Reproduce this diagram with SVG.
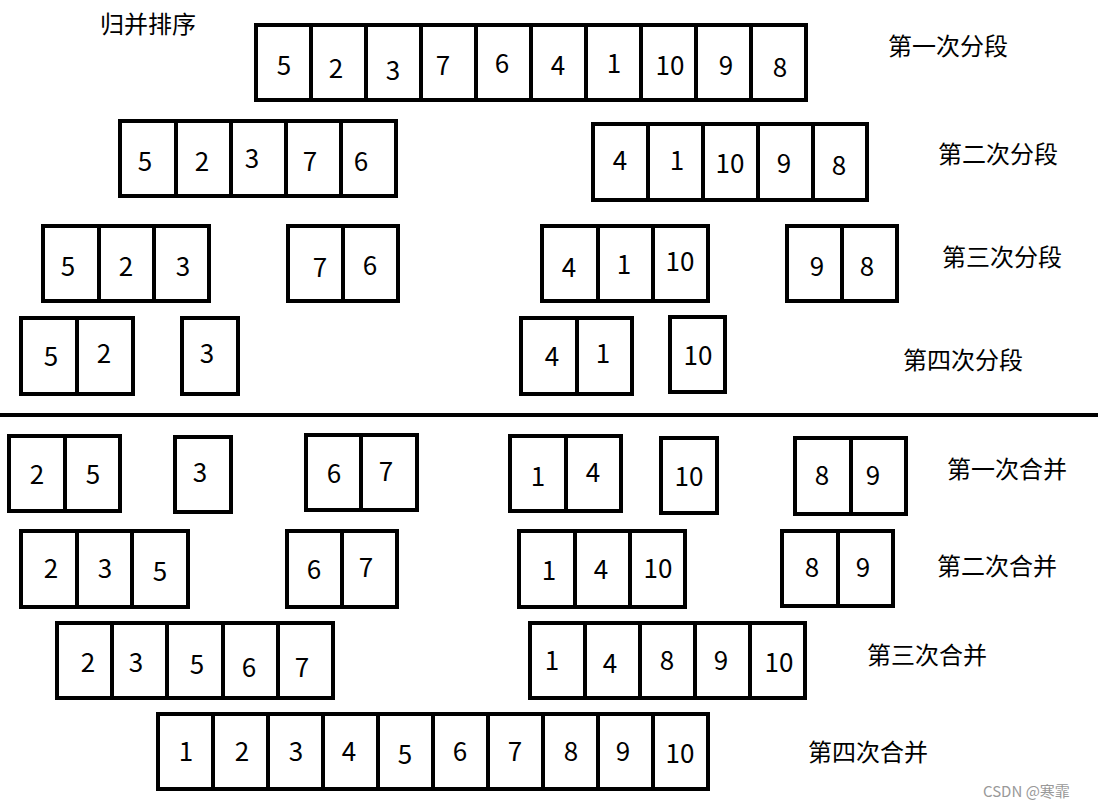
<svg xmlns="http://www.w3.org/2000/svg" width="1109" height="809" viewBox="0 0 1109 809">
<style>
rect{fill:#fff;stroke:#000;stroke-width:4}
.d{stroke:#000;stroke-width:4}
text{font-family:"Noto Sans CJK SC","Noto Sans",sans-serif;fill:#000}
.n{font-size:26px;text-anchor:middle}
.l{font-size:24px}
</style>
<rect width="1109" height="809" style="stroke:none"/>
<g id="r1"><rect x="256" y="25" width="550" height="75"/>
<path class="d" d="M311 25V100M366 25V100M421 25V100M476 25V100M531 25V100M586 25V100M641 25V100M696 25V100M751 25V100"/>
<text class="n" y="75"><tspan x="284">5</tspan><tspan x="336" dy="3">2</tspan><tspan x="393" dy="2">3</tspan><tspan x="443" dy="-5">7</tspan><tspan x="502" dy="-2">6</tspan><tspan x="558" dy="2">4</tspan><tspan x="614" dy="-2">1</tspan><tspan x="670" dy="2">10</tspan><tspan x="726">9</tspan><tspan x="780" dy="2">8</tspan></text></g>
<g id="r2a"><rect x="120" y="121" width="276" height="75"/>
<path class="d" d="M176 121V196M231 121V196M286 121V196M341 121V196"/>
<text class="n" y="171"><tspan x="145">5</tspan><tspan x="202">2</tspan><tspan x="252" dy="-3">3</tspan><tspan x="310" dy="3">7</tspan><tspan x="361">6</tspan></text></g>
<g id="r2b"><rect x="593" y="124" width="274" height="76"/>
<path class="d" d="M648 124V200M703 124V200M758 124V200M813 124V200"/>
<text class="n" y="170"><tspan x="620">4</tspan><tspan x="677">1</tspan><tspan x="730" dy="3">10</tspan><tspan x="784">9</tspan><tspan x="839" dy="2">8</tspan></text></g>
<g id="r3a"><rect x="43" y="226" width="166" height="75"/>
<path class="d" d="M99 226V301M154 226V301"/>
<text class="n" y="276"><tspan x="68">5</tspan><tspan x="126">2</tspan><tspan x="183">3</tspan></text></g>
<g id="r3b"><rect x="288" y="226" width="110" height="75"/>
<path class="d" d="M343 226V301"/>
<text class="n" y="277"><tspan x="320">7</tspan><tspan x="370" dy="-2">6</tspan></text></g>
<g id="r3c"><rect x="542" y="226" width="166" height="75"/>
<path class="d" d="M598 226V301M653 226V301"/>
<text class="n" y="277"><tspan x="569">4</tspan><tspan x="624" dy="-3">1</tspan><tspan x="680" dy="-3">10</tspan></text></g>
<g id="r3d"><rect x="787" y="226" width="110" height="75"/>
<path class="d" d="M842 226V301"/>
<text class="n" y="276"><tspan x="817">9</tspan><tspan x="867">8</tspan></text></g>
<g id="r4a"><rect x="21" y="318" width="112" height="76"/>
<path class="d" d="M77 318V394"/>
<text class="n" y="366"><tspan x="51">5</tspan><tspan x="104" dy="-3">2</tspan></text></g>
<g id="r4b"><rect x="182" y="318" width="56" height="76"/>
<text class="n" x="207" y="363">3</text></g>
<g id="r4c"><rect x="521" y="318" width="111" height="76"/>
<path class="d" d="M577 318V394"/>
<text class="n" y="366"><tspan x="552">4</tspan><tspan x="603" dy="-3">1</tspan></text></g>
<g id="r4d"><rect x="670" y="317" width="55" height="75"/>
<text class="n" x="698" y="365">10</text></g>
<g id="sep"><path class="d" d="M0 415H1098"/></g>
<g id="m1a"><rect x="9" y="436" width="111" height="75"/>
<path class="d" d="M65 436V511"/>
<text class="n" y="484"><tspan x="37">2</tspan><tspan x="93">5</tspan></text></g>
<g id="m1b"><rect x="175" y="437" width="56" height="75"/>
<text class="n" x="200" y="482">3</text></g>
<g id="m1c"><rect x="306" y="435" width="111" height="75"/>
<path class="d" d="M361 435V510"/>
<text class="n" y="483"><tspan x="334">6</tspan><tspan x="386" dy="-2">7</tspan></text></g>
<g id="m1d"><rect x="510" y="436" width="111" height="75"/>
<path class="d" d="M566 436V511"/>
<text class="n" y="486"><tspan x="538">1</tspan><tspan x="593" dy="-4">4</tspan></text></g>
<g id="m1e"><rect x="661" y="438" width="56" height="75"/>
<text class="n" x="689" y="486">10</text></g>
<g id="m1f"><rect x="795" y="438" width="111" height="76"/>
<path class="d" d="M851 438V514"/>
<text class="n" y="485"><tspan x="822">8</tspan><tspan x="873">9</tspan></text></g>
<g id="m2a"><rect x="21" y="531" width="167" height="76"/>
<path class="d" d="M77 531V607M132 531V607"/>
<text class="n" y="578"><tspan x="51">2</tspan><tspan x="105">3</tspan><tspan x="160" dy="3">5</tspan></text></g>
<g id="m2b"><rect x="287" y="531" width="110" height="76"/>
<path class="d" d="M342 531V607"/>
<text class="n" y="579"><tspan x="314">6</tspan><tspan x="366" dy="-2">7</tspan></text></g>
<g id="m2c"><rect x="519" y="531" width="166" height="76"/>
<path class="d" d="M575 531V607M630 531V607"/>
<text class="n" y="580"><tspan x="549">1</tspan><tspan x="601" dy="-1">4</tspan><tspan x="658" dy="-1">10</tspan></text></g>
<g id="m2d"><rect x="782" y="531" width="111" height="75"/>
<path class="d" d="M838 531V606"/>
<text class="n" y="577"><tspan x="812">8</tspan><tspan x="863">9</tspan></text></g>
<g id="m3a"><rect x="57" y="623" width="276" height="75"/>
<path class="d" d="M112 623V698M167 623V698M223 623V698M278 623V698"/>
<text class="n" y="672"><tspan x="88">2</tspan><tspan x="136">3</tspan><tspan x="197" dy="2">5</tspan><tspan x="249" dy="3">6</tspan><tspan x="302">7</tspan></text></g>
<g id="m3b"><rect x="530" y="623" width="275" height="75"/>
<path class="d" d="M585 623V698M640 623V698M695 623V698M750 623V698"/>
<text class="n" y="670"><tspan x="552">1</tspan><tspan x="610" dy="3">4</tspan><tspan x="667" dy="-3">8</tspan><tspan x="721">9</tspan><tspan x="779" dy="2">10</tspan></text></g>
<g id="m4"><rect x="158" y="714" width="550" height="75"/>
<path class="d" d="M213 714V789M268 714V789M323 714V789M378 714V789M433 714V789M488 714V789M543 714V789M598 714V789M653 714V789"/>
<text class="n" y="761"><tspan x="186">1</tspan><tspan x="242">2</tspan><tspan x="296">3</tspan><tspan x="349">4</tspan><tspan x="405" dy="3">5</tspan><tspan x="460" dy="-3">6</tspan><tspan x="515">7</tspan><tspan x="571">8</tspan><tspan x="623">9</tspan><tspan x="680" dy="2">10</tspan></text></g>
<g id="labels" class="l">
<text class="l" x="100" y="33">归并排序</text>
<text class="l" x="888" y="55">第一次分段</text>
<text class="l" x="938" y="163">第二次分段</text>
<text class="l" x="942" y="266">第三次分段</text>
<text class="l" x="903" y="369">第四次分段</text>
<text class="l" x="947" y="478">第一次合并</text>
<text class="l" x="937" y="575">第二次合并</text>
<text class="l" x="867" y="664">第三次合并</text>
<text class="l" x="808" y="761">第四次合并</text>
<text x="983" y="797" style="font-size:15px;fill:#999">CSDN @寒霏</text>
</g>
</svg>
